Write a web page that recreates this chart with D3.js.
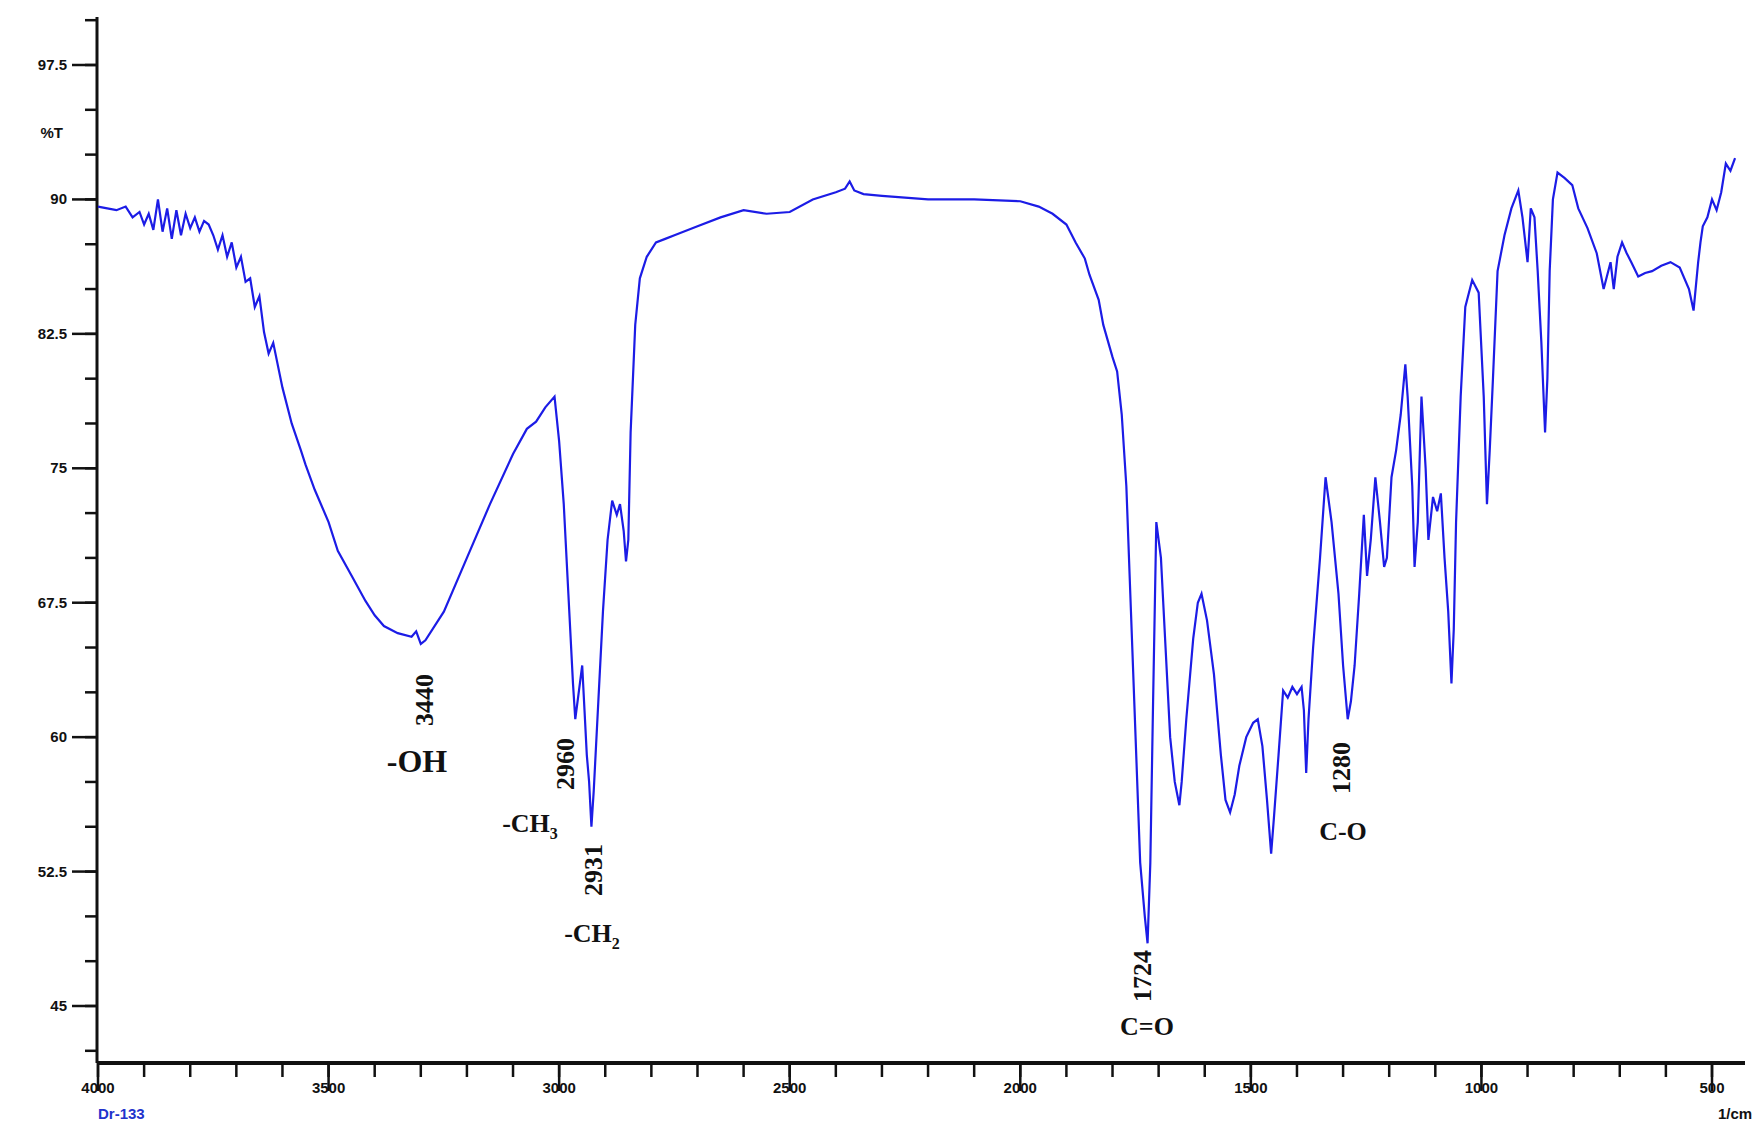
<!DOCTYPE html>
<html><head><meta charset="utf-8">
<script src="https://cdn.jsdelivr.net/npm/d3@7"></script>
<style>body{margin:0;background:#fff}</style></head>
<body><svg id="c" width="1758" height="1128"></svg>
<script>
const wavenumbers = [4000,3980,3960,3940,3925,3910,3900,3890,3880,3870,3860,3850,3840,3830,3820,3810,3800,3790,3780,3770,3760,3750,3740,3730,3720,3710,3700,3690,3680,3670,3660,3650,3640,3630,3620,3600,3580,3560,3550,3530,3500,3480,3450,3420,3400,3380,3350,3320,3310,3300,3290,3250,3200,3150,3100,3070,3050,3030,3010,3000,2990,2980,2970,2965,2955,2950,2945,2940,2935,2930,2925,2915,2905,2895,2885,2875,2868,2860,2855,2850,2845,2835,2825,2810,2790,2770,2750,2700,2650,2600,2550,2500,2450,2400,2380,2370,2360,2340,2300,2200,2100,2000,1960,1930,1900,1880,1860,1850,1830,1820,1800,1790,1780,1770,1760,1750,1740,1730,1724,1718,1712,1705,1695,1685,1675,1665,1655,1650,1640,1625,1615,1607,1595,1580,1565,1555,1545,1535,1525,1510,1495,1485,1475,1465,1456,1450,1440,1430,1420,1410,1400,1390,1385,1380,1375,1365,1350,1338,1325,1310,1300,1290,1283,1275,1265,1255,1248,1240,1230,1220,1211,1205,1195,1185,1175,1165,1160,1150,1145,1138,1130,1121,1115,1105,1096,1088,1080,1072,1065,1060,1055,1045,1035,1020,1006,995,988,982,975,965,950,935,920,911,900,893,885,878,870,862,857,852,845,835,820,803,790,770,750,735,720,713,705,695,685,675,660,645,630,610,590,570,550,540,530,525,520,510,500,490,480,470,460,450,440,432];
const transmittance = [89.6,89.5,89.4,89.6,89.0,89.3,88.6,89.2,88.3,90.0,88.2,89.5,87.8,89.4,88.0,89.2,88.4,89.0,88.2,88.8,88.6,88.0,87.2,88.0,86.8,87.6,86.2,86.8,85.4,85.6,84.0,84.6,82.6,81.4,82.0,79.5,77.5,76.0,75.2,73.8,72.0,70.4,69.0,67.6,66.8,66.2,65.8,65.6,65.9,65.2,65.4,67.0,70.0,73.0,75.8,77.2,77.6,78.4,79.0,76.5,73.0,68.0,63.0,61.0,63.0,64.0,61.5,59.0,57.5,55.0,57.0,62.0,67.0,71.0,73.2,72.4,73.0,71.5,69.8,71.0,77.0,83.0,85.6,86.8,87.6,87.8,88.0,88.5,89.0,89.4,89.2,89.3,90.0,90.4,90.6,91.0,90.5,90.3,90.2,90.0,90.0,89.9,89.6,89.2,88.6,87.6,86.7,85.8,84.4,83.0,81.2,80.4,78.0,74.0,67.0,60.0,53.0,50.0,48.5,53.0,62.0,72.0,70.0,65.0,60.0,57.5,56.2,57.5,61.0,65.5,67.5,68.0,66.5,63.5,59.0,56.5,55.8,56.8,58.4,60.0,60.8,61.0,59.5,56.5,53.5,55.5,59.0,62.6,62.2,62.8,62.4,62.8,61.5,58.0,61.0,65.0,70.0,74.5,72.0,68.0,64.0,61.0,62.0,64.0,68.0,72.4,69.0,71.0,74.5,72.0,69.5,70.0,74.5,76.0,78.0,80.8,79.0,74.0,69.5,72.0,79.0,75.0,71.0,73.4,72.6,73.6,70.0,67.0,63.0,66.0,72.0,79.0,84.0,85.5,84.8,79.0,73.0,76.0,80.0,86.0,88.0,89.5,90.5,89.0,86.5,89.5,89.0,86.0,82.0,77.0,80.0,86.0,90.0,91.5,91.2,90.8,89.5,88.4,87.0,85.0,86.5,85.0,86.8,87.6,87.0,86.5,85.7,85.9,86.0,86.3,86.5,86.2,85.0,83.8,86.5,87.6,88.5,89.0,90.0,89.4,90.4,92.0,91.6,92.3];
const xTicks = [4000,3500,3000,2500,2000,1500,1000,500];
const yTicks = [45,52.5,60,67.5,75,82.5,90,97.5];
const peaks = [{wn:"3440",grp:"-OH"},{wn:"2960",grp:"-CH",sub:"3"},{wn:"2931",grp:"-CH",sub:"2"},{wn:"1724",grp:"C=O"},{wn:"1280",grp:"C-O"}];

const svg = d3.select("#c");
const x = d3.scaleLinear().domain([4000,500]).range([98,1712]);
const y = d3.scaleLinear().domain([45,97.5]).range([1006,65]);
const axisY = 1063, leftX = 97, rightX = 1745, topY = 17;
const ink = "#111";

svg.append("line").attr("x1",leftX).attr("x2",leftX).attr("y1",topY).attr("y2",axisY).attr("stroke",ink).attr("stroke-width",3);
svg.append("line").attr("x1",leftX).attr("x2",rightX).attr("y1",axisY).attr("y2",axisY).attr("stroke",ink).attr("stroke-width",4);

const yMinor = d3.range(42.5,101,2.5);
svg.selectAll(".ym").data(yMinor).join("line").attr("x1",leftX-12).attr("x2",leftX).attr("y1",d=>y(d)).attr("y2",d=>y(d)).attr("stroke",ink).attr("stroke-width",2.5);
svg.selectAll(".yM").data(yTicks).join("line").attr("x1",leftX-25).attr("x2",leftX).attr("y1",d=>y(d)).attr("y2",d=>y(d)).attr("stroke",ink).attr("stroke-width",2.5);
svg.selectAll(".yl").data(yTicks).join("text").attr("x",leftX-30).attr("y",d=>y(d)+5).attr("text-anchor","end")
  .attr("font-family","Liberation Sans, Arial").attr("font-weight","bold").attr("font-size",15).attr("fill",ink).text(d=>d);
svg.append("text").attr("x",63).attr("y",138).attr("text-anchor","end").attr("font-family","Liberation Sans, Arial").attr("font-weight","bold").attr("font-size",15).attr("fill",ink).text("%T");

const xMinor = d3.range(4000,429,-100);
svg.selectAll(".xm").data(xMinor).join("line").attr("x1",d=>x(d)).attr("x2",d=>x(d)).attr("y1",axisY).attr("y2",axisY+14).attr("stroke",ink).attr("stroke-width",2.5);
svg.selectAll(".xM").data(xTicks).join("line").attr("x1",d=>x(d)).attr("x2",d=>x(d)).attr("y1",axisY).attr("y2",axisY+28).attr("stroke",ink).attr("stroke-width",2.5);
svg.selectAll(".xl").data(xTicks).join("text").attr("x",d=>x(d)).attr("y",axisY+30).attr("text-anchor","middle")
  .attr("font-family","Liberation Sans Narrow, Liberation Sans, Arial").attr("font-weight","bold").attr("font-size",15).attr("fill",ink).text(d=>d);
svg.append("text").attr("x",x(4000)).attr("y",axisY+56).attr("font-family","Liberation Sans, Arial").attr("font-weight","bold").attr("font-size",15).attr("fill","#2233cc").text("Dr-133");
svg.append("text").attr("x",1718).attr("y",axisY+56).attr("font-family","Liberation Sans, Arial").attr("font-weight","bold").attr("font-size",15).attr("fill",ink).text("1/cm");

const pts = wavenumbers.map((w,i)=>[w,transmittance[i]]);
svg.append("path").datum(pts).attr("fill","none").attr("stroke","#1c1ce6").attr("stroke-width",2.2)
  .attr("d",d3.line().x(d=>x(d[0])).y(d=>y(d[1])));

const pos = {"3440":[424,700,417,772,32],"2960":[565,764,530,832,26],"2931":[593,870,592,942,26],"1724":[1142,976,1147,1035,26],"1280":[1341,768,1343,840,26]};
peaks.forEach(p=>{
  const [nx,ny,gx,gy,gs] = pos[p.wn];
  svg.append("text").attr("transform",`translate(${nx+9},${ny}) rotate(-90)`).attr("text-anchor","middle")
    .attr("font-family","Liberation Serif, Times New Roman").attr("font-weight","bold").attr("font-size",26).attr("fill",ink).text(p.wn);
  const t = svg.append("text").attr("x",gx).attr("y",gy).attr("text-anchor","middle")
    .attr("font-family","Liberation Serif, Times New Roman").attr("font-weight","bold").attr("font-size",gs).attr("fill",ink).text(p.grp);
  if(p.sub) t.append("tspan").attr("font-size",16).attr("dy",7).text(p.sub);
});
</script></body></html>
